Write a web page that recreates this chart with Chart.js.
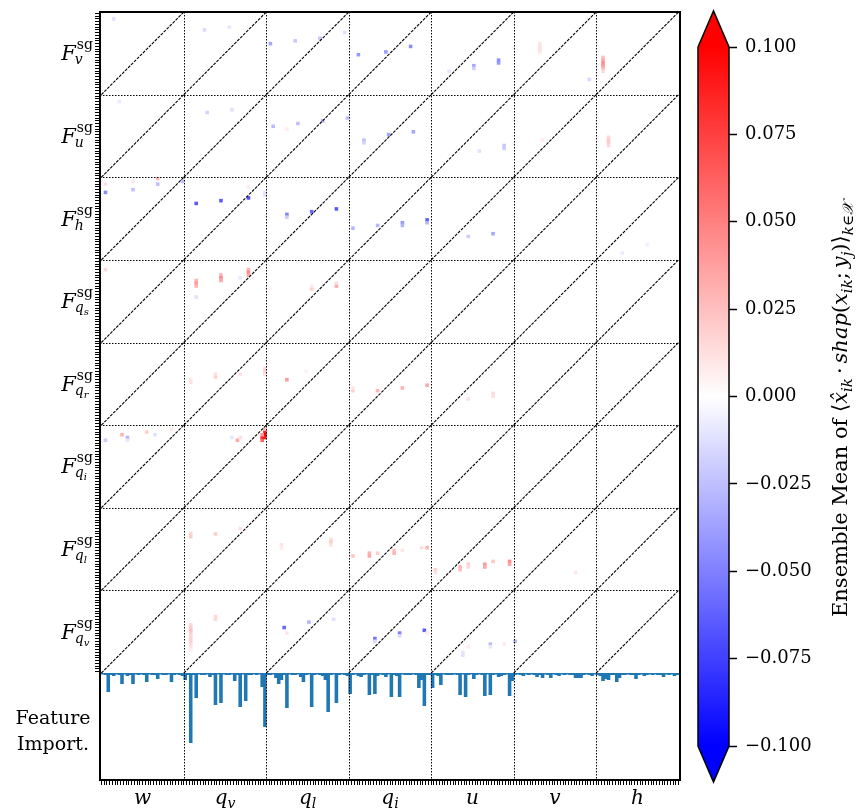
<!DOCTYPE html>
<html>
<head>
<meta charset="utf-8">
<script src="https://cdn.jsdelivr.net/npm/chart.js"></script>
<style>
  body { margin: 0; background: #fff; }
  #wrap { position: relative; width: 856px; height: 809px; }
  canvas { position: absolute; top: 0; }
</style>
</head>
<body>
<div id="wrap">
  <canvas id="mainChart" width="856" height="809" style="left:0"></canvas>
  <canvas id="cbarChart" width="166" height="809" style="left:690px"></canvas>
</div>
<script>
// ---- data ----
const nLev = 30; // levels per variable
const inputs = [['w', ''], ['q', 'v'], ['q', 'l'], ['q', 'i'], ['u', ''], ['v', ''], ['h', '']];
const outputs = [['v', ''], ['u', ''], ['h', ''], ['q', 's'], ['q', 'r'], ['q', 'i'], ['q', 'l'], ['q', 'v']];

// heatmap cells that differ from zero: [column, level within output block, value]
const cellsFv = [[4,2,-0.012],[37,6,-0.015],[46,5,-0.01],[61,11,-0.035],[70,10,-0.022],[79,9,-0.022],[88,7,-0.012],[93,15,-0.04],[103,14,-0.04],[112,12,-0.045],[126,21,-0.01],[135,19,-0.035],[135,20,-0.02],[144,17,-0.045],[144,18,-0.04],[159,11,0.01],[159,12,0.012],[159,13,0.012],[159,14,0.01],[177,24,-0.015],[182,16,0.025],[182,17,0.035],[182,18,0.045],[182,19,0.04],[182,20,0.03],[182,21,0.015]];
const cellsFu = [[6,2,-0.008],[38,6,-0.018],[47,5,-0.012],[62,11,-0.028],[67,12,0.008],[71,10,-0.025],[80,9,-0.03],[89,8,-0.025],[95,16,-0.025],[95,17,-0.018],[104,14,-0.035],[113,13,-0.035],[137,20,-0.012],[146,18,-0.022],[146,19,-0.02],[160,16,0.008],[184,15,0.015],[184,16,0.02],[184,17,0.02],[184,18,0.015]];
const cellsFh = [[1,2,0.012],[1,5,-0.045],[11,1,0.01],[11,4,-0.025],[20,0,0.025],[20,2,-0.025],[29,1,-0.025],[34,9,-0.065],[43,8,-0.065],[53,7,-0.07],[53,3,0.008],[59,6,-0.012],[59,5,-0.01],[67,13,-0.05],[67,14,-0.02],[76,12,-0.06],[85,11,-0.065],[91,18,-0.03],[100,17,-0.03],[109,16,-0.04],[109,17,-0.03],[118,15,-0.065],[118,16,-0.03],[133,21,-0.02],[142,20,-0.035],[189,27,-0.008],[198,24,-0.006]];
const cellsFqs = [[1,3,0.015],[34,7,0.03],[34,8,0.04],[34,9,0.03],[43,5,0.03],[43,6,0.045],[43,7,0.035],[53,3,0.03],[53,4,0.045],[53,5,0.035],[50,6,-0.01],[34,13,-0.012],[76,10,0.02],[76,9,0.008],[85,9,0.035],[85,8,0.015],[61,10,0.005]];
const cellsFqr = [[32,13,0.01],[32,14,0.012],[41,12,0.018],[41,11,0.012],[50,11,0.012],[59,9,0.015],[59,10,0.018],[59,11,0.012],[67,13,0.04],[91,17,0.018],[91,16,0.01],[100,17,0.03],[109,16,0.03],[118,15,0.035],[133,20,0.012],[142,18,0.015],[142,19,0.012],[74,10,0.005]];
const cellsFqi = [[1,5,-0.02],[7,3,0.03],[9,4,-0.03],[9,5,-0.01],[16,2,0.02],[19,3,-0.012],[25,1,0.01],[49,5,0.035],[50,4,0.012],[47,4,-0.01],[58,4,0.09],[58,5,0.06],[59,2,0.09],[59,3,0.1],[59,4,0.09],[58,3,0.04],[59,1,0.03]];
const cellsFql = [[32,9,0.018],[32,10,0.02],[41,9,0.02],[50,7,0.012],[65,13,0.012],[65,14,0.008],[83,11,0.015],[83,12,0.02],[83,13,0.012],[91,17,0.022],[97,16,0.03],[97,17,0.035],[100,16,0.02],[106,15,0.025],[106,16,0.03],[109,15,0.01],[116,14,0.012],[118,14,0.03],[121,22,0.018],[121,23,0.012],[130,21,0.03],[130,22,0.025],[133,20,0.02],[133,21,0.015],[139,20,0.04],[139,21,0.035],[142,19,0.022],[148,19,0.045],[148,20,0.035],[172,23,0.01]];
const cellsFqv = [[32,12,0.015],[32,13,0.02],[32,14,0.025],[32,15,0.02],[32,16,0.015],[32,17,0.018],[32,18,0.018],[32,19,0.015],[32,20,0.012],[32,21,0.008],[41,9,0.015],[41,10,0.015],[66,13,-0.06],[67,15,0.01],[75,11,-0.03],[84,10,-0.012],[99,17,-0.055],[99,18,-0.015],[108,15,-0.05],[108,16,-0.015],[117,14,-0.065],[118,15,0.008],[131,23,-0.012],[131,22,-0.01],[133,20,0.008],[141,19,-0.025],[141,20,-0.01],[150,18,-0.03],[146,19,0.008]];
const cellBlocks = [cellsFv, cellsFu, cellsFh, cellsFqs, cellsFqr, cellsFqi, cellsFql, cellsFqv];

// feature importance, one value per input level
const impW  = [0.015,0.02,0.19,0.02,0.03,0.015,0.02,0.11,0.015,0.03,0.02,0.11,0.015,0.02,0.015,0.02,0.09,0.015,0.02,0.02,0.06,0.015,0.02,0.02,0.015,0.09,0.02,0.015,0.02,0.03];
const impQv = [0.07,0.02,0.70,0.02,0.25,0.015,0.02,0.02,0.015,0.04,0.02,0.32,0.015,0.30,0.015,0.02,0.02,0.015,0.08,0.02,0.34,0.015,0.28,0.02,0.02,0.015,0.02,0.015,0.14,0.54];
const impQl = [0.02,0.02,0.015,0.05,0.11,0.07,0.02,0.35,0.015,0.02,0.02,0.015,0.04,0.09,0.02,0.015,0.34,0.02,0.015,0.02,0.03,0.07,0.39,0.02,0.015,0.30,0.02,0.015,0.02,0.03];
const impQi = [0.21,0.02,0.015,0.03,0.04,0.02,0.015,0.22,0.02,0.21,0.03,0.015,0.02,0.04,0.015,0.24,0.02,0.03,0.24,0.015,0.02,0.02,0.02,0.015,0.02,0.15,0.07,0.33,0.02,0.02];
const impU  = [0.15,0.02,0.03,0.12,0.015,0.02,0.02,0.02,0.015,0.02,0.22,0.015,0.24,0.02,0.015,0.06,0.02,0.015,0.02,0.23,0.015,0.22,0.02,0.015,0.04,0.03,0.02,0.015,0.23,0.08];
const impV  = [0.02,0.015,0.02,0.03,0.015,0.02,0.015,0.02,0.04,0.02,0.05,0.015,0.02,0.05,0.015,0.02,0.03,0.015,0.02,0.015,0.02,0.02,0.05,0.05,0.05,0.02,0.015,0.02,0.03,0.015];
const impH  = [0.02,0.03,0.08,0.06,0.07,0.02,0.02,0.09,0.05,0.02,0.02,0.015,0.02,0.02,0.06,0.02,0.015,0.03,0.02,0.015,0.02,0.015,0.02,0.02,0.04,0.015,0.02,0.015,0.03,0.02];

const cbarTicks = [-0.1, -0.075, -0.05, -0.025, 0, 0.025, 0.05, 0.075, 0.1];
const vmin = -0.1, vmax = 0.1;

// ---- helpers ----
const FONT = '"DejaVu Serif", serif';
function bwr(v) {
  let t = Math.min(1, Math.max(0, (v - vmin) / (vmax - vmin)));
  let r, g, b;
  if (t < 0.5) { r = g = 2 * t; b = 1; } else { r = 1; g = b = 2 * (1 - t); }
  return 'rgb(' + Math.round(r * 255) + ',' + Math.round(g * 255) + ',' + Math.round(b * 255) + ')';
}
function put(ctx, s, x, y, size, italic) {
  ctx.font = (italic ? 'italic ' : '') + size + 'px ' + FONT;
  ctx.fillText(s, x, y);
  return ctx.measureText(s).width;
}
function measure(ctx, s, size, italic) {
  ctx.font = (italic ? 'italic ' : '') + size + 'px ' + FONT;
  return ctx.measureText(s).width;
}

const nCols = inputs.length * nLev;
const nRows = outputs.length * nLev;
const heatPoints = [];
cellBlocks.forEach((block, g) => block.forEach(c => heatPoints.push({x: c[0], y: g * nLev + c[1], v: c[2]})));
const importance = [impW, impQv, impQl, impQi, impU, impV, impH].flat().map((v, i) => ({x: i, y: v}));

// ---- overlay: separators, diagonals, frame, labels ----
const overlay = {
  id: 'overlay',
  afterDatasetsDraw(chart) {
    const ctx = chart.ctx, xs = chart.scales.x, ys = chart.scales.y, area = chart.chartArea;
    ctx.save();
    ctx.strokeStyle = '#000';
    // diagonals
    ctx.lineWidth = 1.1;
    ctx.setLineDash([3, 1.2]);
    for (let gi = 0; gi < inputs.length; gi++) {
      for (let ri = 0; ri < outputs.length; ri++) {
        ctx.beginPath();
        ctx.moveTo(xs.getPixelForValue(gi * nLev - 0.5), ys.getPixelForValue(ri * nLev + nLev - 0.5));
        ctx.lineTo(xs.getPixelForValue(gi * nLev + nLev - 0.5), ys.getPixelForValue(ri * nLev - 0.5));
        ctx.stroke();
      }
    }
    // dotted block separators
    ctx.lineWidth = 1;
    ctx.setLineDash([1.5, 1.5]);
    for (let k = 1; k < inputs.length; k++) {
      const px = Math.round(xs.getPixelForValue(k * nLev - 0.5)) + 0.5;
      ctx.beginPath(); ctx.moveTo(px, area.top); ctx.lineTo(px, area.bottom); ctx.stroke();
    }
    for (let k = 1; k < outputs.length; k++) {
      const py = Math.round(ys.getPixelForValue(k * nLev - 0.5)) + 0.5;
      ctx.beginPath(); ctx.moveTo(area.left, py); ctx.lineTo(area.right, py); ctx.stroke();
    }
    // frame
    ctx.setLineDash([]);
    ctx.lineWidth = 2;
    ctx.strokeRect(area.left, area.top, area.right - area.left, area.bottom - area.top);

    // labels
    ctx.fillStyle = '#000';
    ctx.textAlign = 'left';
    ctx.textBaseline = 'alphabetic';
    outputs.forEach((o, ri) => {
      const yc = ys.getPixelForValue(ri * nLev + nLev / 2 - 0.5);
      const wF = measure(ctx, 'F', 21, true);
      const wSup = measure(ctx, 'sg', 14, false);
      const wSub = measure(ctx, o[0], 14, true) + (o[1] ? measure(ctx, o[1], 10, true) : 0);
      const x0 = area.left - 7 - (wF + 1 + Math.max(wSup, wSub));
      put(ctx, 'F', x0, yc + 7, 21, true);
      put(ctx, 'sg', x0 + wF + 1, yc - 4, 14, false);
      const ws = put(ctx, o[0], x0 + wF - 1, yc + 11, 14, true);
      if (o[1]) put(ctx, o[1], x0 + wF - 1 + ws, yc + 14, 10, true);
    });
    inputs.forEach((v, gi) => {
      const xc = xs.getPixelForValue(gi * nLev + nLev / 2 - 0.5);
      const wb = measure(ctx, v[0], 20, true);
      const wsb = v[1] ? measure(ctx, v[1], 14, true) : 0;
      const x0 = xc - (wb + wsb) / 2;
      put(ctx, v[0], x0, 804, 20, true);
      if (v[1]) put(ctx, v[1], x0 + wb, 808, 14, true);
    });
    ctx.textAlign = 'center';
    put(ctx, 'Feature', 53, 724, 19, false);
    put(ctx, 'Import.', 53, 750, 19, false);
    ctx.restore();
  }
};

const intTicks = n => axis => { axis.ticks = Array.from({length: n}, (_, i) => ({value: i})); };
const zeroW = axis => { axis.width = 0; };
const cellRadius = c => {
  const s = c.chart.scales.x;
  return 1.3 * (s.getPixelForValue(1) - s.getPixelForValue(0)) / Math.SQRT2;
};

new Chart(document.getElementById('mainChart'), {
  type: 'scatter',
  data: {
    datasets: [{
      label: 'contribution',
      data: heatPoints,
      pointStyle: 'rect',
      pointBorderWidth: 0,
      pointBackgroundColor: c => c.raw ? bwr(c.raw.v) : '#fff',
      pointRadius: cellRadius,
      yAxisID: 'y'
    }, {
      type: 'bar',
      label: 'Feature Import.',
      data: importance,
      backgroundColor: '#1f77b4',
      borderWidth: 0,
      barPercentage: 1.3,
      categoryPercentage: 1,
      yAxisID: 'yb'
    }]
  },
  options: {
    responsive: false,
    animation: false,
    events: [],
    layout: { padding: { left: 100, right: 176, top: 12, bottom: 29 } },
    plugins: { legend: { display: false }, tooltip: { enabled: false } },
    scales: {
      x: {
        type: 'linear', min: -0.5, max: nCols - 0.5,
        afterBuildTicks: intTicks(nCols),
        afterFit: axis => { axis.height = 0; },
        ticks: { display: false },
        grid: { drawOnChartArea: false, drawTicks: true, tickLength: 5, tickColor: '#000', tickWidth: 1 },
        border: { display: false }
      },
      y: {
        type: 'linear', position: 'left', reverse: true,
        min: -0.5, max: nRows - 0.5,
        stack: 'main', stackWeight: 661, weight: 2,
        afterBuildTicks: intTicks(nRows),
        afterFit: zeroW,
        ticks: { display: false },
        grid: { drawOnChartArea: false, drawTicks: true, tickLength: 5, tickColor: '#000', tickWidth: 1 },
        border: { display: false }
      },
      yb: {
        type: 'linear', position: 'left', reverse: true,
        min: 0, max: 1.07,
        stack: 'main', stackWeight: 107, weight: 1,
        afterFit: zeroW,
        ticks: { display: false },
        grid: { display: false },
        border: { display: false }
      }
    }
  },
  plugins: [overlay]
});

// ---- colorbar ----
const cbarDeco = {
  id: 'cbarDeco',
  afterDatasetsDraw(chart) {
    const ctx = chart.ctx, a = chart.chartArea;
    const mid = (a.left + a.right) / 2;
    ctx.save();
    ctx.fillStyle = bwr(vmax);
    ctx.beginPath(); ctx.moveTo(a.left, a.top); ctx.lineTo(mid, a.top - 36); ctx.lineTo(a.right, a.top); ctx.closePath(); ctx.fill();
    ctx.fillStyle = bwr(vmin);
    ctx.beginPath(); ctx.moveTo(a.left, a.bottom); ctx.lineTo(mid, a.bottom + 36); ctx.lineTo(a.right, a.bottom); ctx.closePath(); ctx.fill();
    ctx.strokeStyle = '#000';
    ctx.lineWidth = 1.5;
    ctx.beginPath();
    ctx.moveTo(a.left, a.top); ctx.lineTo(mid, a.top - 36); ctx.lineTo(a.right, a.top);
    ctx.lineTo(a.right, a.bottom); ctx.lineTo(mid, a.bottom + 36); ctx.lineTo(a.left, a.bottom);
    ctx.closePath(); ctx.stroke();

    // rotated label
    ctx.fillStyle = '#000';
    ctx.translate(157, 617);
    ctx.rotate(-Math.PI / 2);
    ctx.textAlign = 'left';
    ctx.textBaseline = 'alphabetic';
    const S = 21, s = 15, th = 4;
    let x = 0;
    x += put(ctx, 'Ensemble Mean of ', x, 0, S, false);
    x += put(ctx, '\u27E8', x, 0, S, false);
    x += put(ctx, 'x\u0302', x, 0, S, true);
    x += put(ctx, 'ik', x, 5, s, true);
    x += th;
    x += put(ctx, '\u00B7', x, 0, S, false);
    x += th;
    x += put(ctx, 'shap', x, 0, S, true);
    x += put(ctx, '(', x, 0, S, false);
    x += put(ctx, 'x', x, 0, S, true);
    x += put(ctx, 'ik', x, 5, s, true);
    x += put(ctx, ';', x, 0, S, false);
    x += th;
    x += put(ctx, 'y', x, 0, S, true);
    x += put(ctx, 'j', x, 5, s, true);
    x += put(ctx, ')', x, 0, S, false);
    x += put(ctx, '\u27E9', x, 0, S, false);
    x += put(ctx, 'k\u2208\uD835\uDCB3', x, 6, s, true);
    ctx.restore();
  }
};

new Chart(document.getElementById('cbarChart'), {
  type: 'bar',
  data: {
    labels: ['cbar'],
    datasets: [{
      data: [[vmin, vmax]],
      barPercentage: 1,
      categoryPercentage: 1,
      backgroundColor: c => {
        const a = c.chart.chartArea;
        if (!a) return '#fff';
        const gr = c.chart.ctx.createLinearGradient(0, a.bottom, 0, a.top);
        gr.addColorStop(0, bwr(vmin));
        gr.addColorStop(0.5, bwr(0));
        gr.addColorStop(1, bwr(vmax));
        return gr;
      }
    }]
  },
  options: {
    responsive: false,
    animation: false,
    events: [],
    layout: { padding: { left: 8, top: 47, bottom: 63, right: 0 } },
    plugins: { legend: { display: false }, tooltip: { enabled: false } },
    scales: {
      x: { display: false },
      y: {
        position: 'right', min: vmin, max: vmax,
        afterBuildTicks: axis => { axis.ticks = cbarTicks.map(v => ({value: v})); },
        afterFit: axis => { axis.width = 127; },
        ticks: {
          color: '#000', padding: 8,
          font: { family: 'DejaVu Serif', size: 18 },
          callback: v => (v < 0 ? '\u2212' : '') + Math.abs(v).toFixed(3)
        },
        grid: { drawOnChartArea: false, drawTicks: true, tickLength: 8, tickColor: '#000', tickWidth: 1.5 },
        border: { display: false }
      }
    }
  },
  plugins: [cbarDeco]
});
</script>
</body>
</html>
